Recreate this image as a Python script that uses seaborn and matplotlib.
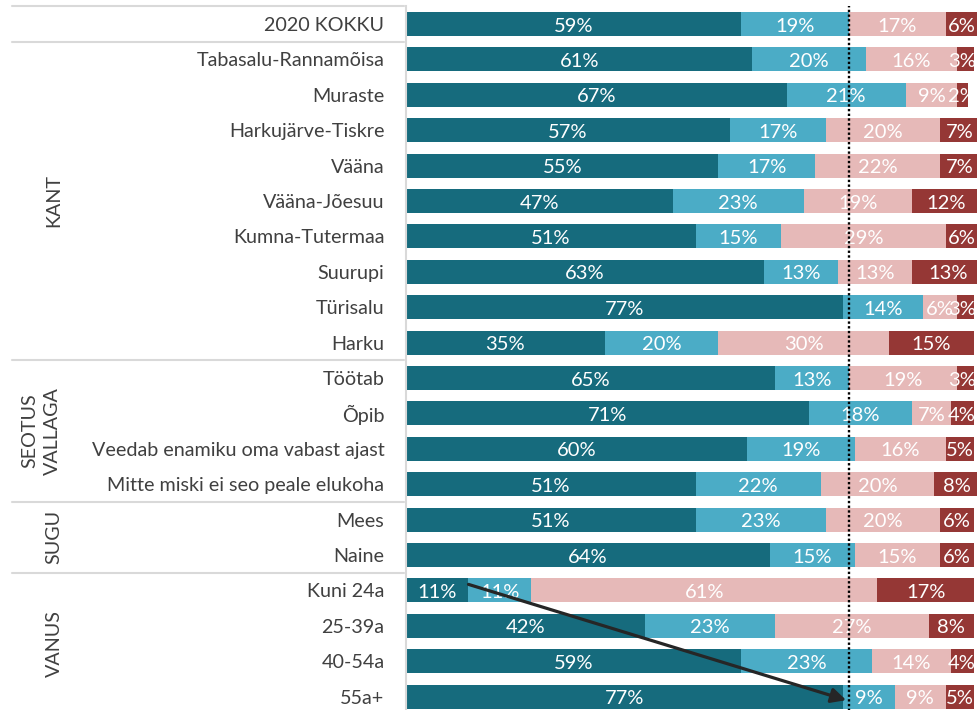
import matplotlib
matplotlib.use("Agg")
import matplotlib.pyplot as plt
import matplotlib.transforms as mtransforms
import numpy as np
import seaborn as sns

# andmed (loetud pildilt)
categories = ["2020 KOKKU", "Tabasalu-Rannamõisa", "Muraste", "Harkujärve-Tiskre",
              "Vääna", "Vääna-Jõesuu", "Kumna-Tutermaa", "Suurupi", "Türisalu", "Harku",
              "Töötab", "Õpib", "Veedab enamiku oma vabast ajast",
              "Mitte miski ei seo peale elukoha", "Mees", "Naine",
              "Kuni 24a", "25-39a", "40-54a", "55a+"]
seg1 = [59, 61, 67, 57, 55, 47, 51, 63, 77, 35, 65, 71, 60, 51, 51, 64, 11, 42, 59, 77]
seg2 = [19, 20, 21, 17, 17, 23, 15, 13, 14, 20, 13, 18, 19, 22, 23, 15, 11, 23, 23, 9]
seg3 = [17, 16, 9, 20, 22, 19, 29, 13, 6, 30, 19, 7, 16, 20, 20, 15, 61, 27, 14, 9]
seg4 = [6, 3, 2, 7, 7, 12, 6, 13, 3, 15, 3, 4, 5, 8, 6, 6, 17, 8, 4, 5]

group_names = ["KANT", "SEOTUS\nVALLAGA", "SUGU", "VANUS"]
group_rows = [(1, 9), (10, 13), (14, 15), (16, 19)]

colors = ["#166B7D", "#4BACC6", "#E6B9B8", "#953735"]
text_col = "#404040"
line_col = "#D9D9D9"

sns.set_style("white")
plt.rcParams["font.family"] = ["Lato", "DejaVu Sans"]

W, H = 978, 710
fig = plt.figure(figsize=(W / 100, H / 100), dpi=100)
row_h = 35.4
top_px = 6.3
n = len(categories)
ax = fig.add_axes([406 / W, (H - top_px - row_h * n) / H, 1 - 406 / W, row_h * n / H])

series = [seg1, seg2, seg3, seg4]
cums = np.cumsum(np.array(series), axis=0)

# virnastatud tulbad: suurimast summast alates
for k in range(3, -1, -1):
    sns.barplot(x=cums[k], y=categories, orient="h", color=colors[k],
                saturation=1, width=0.68, linewidth=0, ax=ax)

ax.set_xlim(0, 100.7)
ax.set_ylim(n - 0.5, -0.5)

# protsendid
labels = []
for k in range(4):
    left = cums[k] - np.array(series[k])
    for i in range(n):
        t = ax.text(left[i] + series[k][i] / 2, i + 0.06, f"{series[k][i]}%",
                    ha="center", va="center", color="white", fontsize=14.5, zorder=5)
        labels.append(t)

ax.set_xlabel("")
ax.set_ylabel("")
ax.set_xticks([])
ax.tick_params(axis="y", length=0, pad=15.5, labelsize=14.2, labelcolor=text_col)
for s in ["top", "right", "bottom"]:
    ax.spines[s].set_visible(False)
ax.spines["left"].set_color(line_col)
ax.spines["left"].set_linewidth(1.5)

# 2020 keskmine joon
ref = cums[1][0]
ax.axvline(ref, color="black", linestyle=(0, (1, 1)), lw=1.7, zorder=6)

# eraldusjooned ja grupid
trans = mtransforms.blended_transform_factory(fig.transFigure, ax.transData)
for y in [-0.5, 0.5, 9.5, 13.5, 15.5]:
    ax.plot([12 / W, 404 / W], [y, y], color=line_col, lw=1.5,
            transform=trans, clip_on=False)
for name, (a, b) in zip(group_names, group_rows):
    xpos = 41 / W if "\n" in name else 54 / W
    ax.text(xpos, (a + b) / 2, name, transform=trans, rotation=90, ha="center",
            va="center", color=text_col, fontsize=14.2, linespacing=1.35,
            multialignment="center")

# nool noorimast vanimani
ax.annotate("", xy=(77.5, 19.1), xytext=(11, 15.83),
            arrowprops=dict(arrowstyle="-|>", color="#262626", lw=2.3,
                            mutation_scale=22, shrinkA=0, shrinkB=0), zorder=7)

# siltide nihutamine joonise sisse (nagu Excelis)
fig.canvas.draw()
r = fig.canvas.get_renderer()
inv = ax.transData.inverted()
for t in labels:
    bb = t.get_window_extent(r)
    if bb.x1 > W - 2:
        dx = bb.x1 - (W - 2)
        x0, y0 = t.get_position()
        px = ax.transData.transform((x0, y0))
        t.set_position((inv.transform((px[0] - dx, px[1]))[0], y0))

fig.savefig("out.png", dpi=100)
